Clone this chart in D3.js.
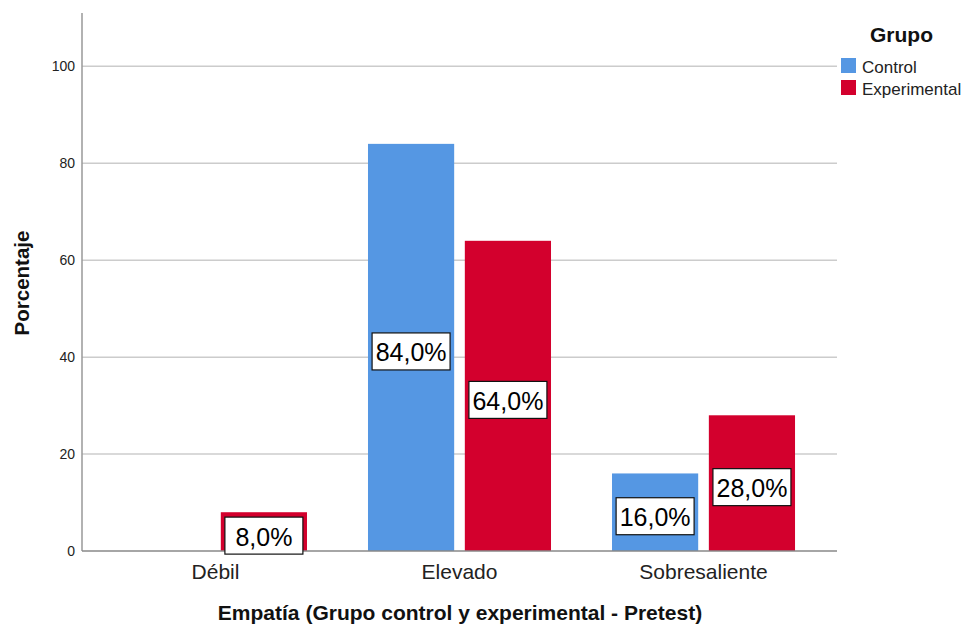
<!DOCTYPE html>
<html>
<head>
<meta charset="utf-8">
<script src="https://cdn.jsdelivr.net/npm/d3@7"></script>
<style>
  html, body { margin: 0; padding: 0; background: #fff; }
  svg { display: block; font-family: Arial, "Liberation Sans", sans-serif; }
</style>
</head>
<body>
<svg id="chart" width="964" height="626"></svg>
<script>
const categories = ["Débil", "Elevado", "Sobresaliente"];
const groups = ["Control", "Experimental"];
const controlValues = [0, 84, 16];
const experimentalValues = [8, 64, 28];
const yTicks = [0, 20, 40, 60, 80, 100];
const groupColors = ["#5597E3", "#D3002D"];
const xTitle = "Empatía (Grupo control y experimental - Pretest)";
const yTitle = "Porcentaje";
const legendTitle = "Grupo";

(function () {
const seriesValues = [controlValues, experimentalValues];
const data = [];
categories.forEach((c, i) => {
  groups.forEach((g, j) => {
    data.push({ cat: c, group: g, value: seriesValues[j][i], color: groupColors[j] });
  });
});

const svg = d3.select("#chart");
const pLeft = 82, pRight = 837, pTop = 13, pBottom = 551;

const y = d3.scaleLinear().domain([0, 111]).range([pBottom, pTop]);
const x = d3.scaleBand().domain(categories).range([pLeft, pRight])
  .paddingInner(0.25).paddingOuter(0.172);
const xg = d3.scaleBand().domain(groups).range([0, x.bandwidth()]).paddingInner(0.11);

// gridlines
svg.append("g").selectAll("line").data(yTicks.filter(d => d > 0)).join("line")
  .attr("x1", pLeft).attr("x2", pRight)
  .attr("y1", d => y(d)).attr("y2", d => y(d))
  .attr("stroke", "#cccccc").attr("stroke-width", 1.5);

// y axis
const yAxis = d3.axisLeft(y).tickValues(yTicks).tickSize(0).tickPadding(7);
const yg = svg.append("g").attr("transform", `translate(${pLeft},0)`).call(yAxis);
yg.select(".domain").remove();
yg.selectAll("text").attr("font-size", 14).attr("fill", "#222").attr("font-family", "Arial, 'Liberation Sans', sans-serif");
svg.append("line").attr("x1", pLeft).attr("x2", pLeft).attr("y1", pTop).attr("y2", pBottom)
  .attr("stroke", "#999").attr("stroke-width", 1.5);

// bars
const bars = svg.append("g");
bars.selectAll("rect").data(data.filter(d => d.value > 0)).join("rect")
  .attr("x", d => x(d.cat) + xg(d.group))
  .attr("width", xg.bandwidth())
  .attr("y", d => y(d.value))
  .attr("height", d => y(0) - y(d.value))
  .attr("fill", d => d.color);

// x axis
const xAxis = d3.axisBottom(x).tickSize(0).tickPadding(13);
const xgAxis = svg.append("g").attr("transform", `translate(0,${pBottom})`).call(xAxis);
xgAxis.select(".domain").remove();
xgAxis.selectAll("text").attr("font-size", 21).attr("fill", "#222").attr("font-family", "Arial, 'Liberation Sans', sans-serif");
svg.append("line").attr("x1", pLeft).attr("x2", pRight).attr("y1", pBottom).attr("y2", pBottom)
  .attr("stroke", "#888").attr("stroke-width", 1.5);

// value labels
const labels = svg.append("g");
data.filter(d => d.value > 0).forEach(d => {
  const cx = x(d.cat) + xg(d.group) + xg.bandwidth() / 2;
  const cy = (y(d.value) + y(0)) / 2 + 4;
  const txt = d3.format(".1f")(d.value).replace(".", ",") + "%";
  const g = labels.append("g");
  g.append("rect")
    .attr("x", cx - 39).attr("y", cy - 18.5).attr("width", 78).attr("height", 37)
    .attr("fill", "#fff").attr("stroke", "#111").attr("stroke-width", 1.2);
  g.append("text").attr("x", cx).attr("y", cy + 1).attr("text-anchor", "middle")
    .attr("dominant-baseline", "central").attr("font-size", 25).attr("fill", "#000").text(txt);
});

// axis titles
svg.append("text").attr("x", 460).attr("y", 620).attr("text-anchor", "middle")
  .attr("font-size", 21).attr("font-weight", "bold").attr("fill", "#111").text(xTitle);
svg.append("text").attr("transform", `translate(29,283) rotate(-90)`)
  .attr("text-anchor", "middle").attr("font-size", 20.5).attr("font-weight", "bold").attr("fill", "#111").text(yTitle);

// legend
const lg = svg.append("g");
lg.append("text").attr("x", 901.5).attr("y", 42).attr("text-anchor", "middle")
  .attr("font-size", 21).attr("font-weight", "bold").attr("fill", "#111").text(legendTitle);
groups.forEach((g, i) => {
  lg.append("rect").attr("x", 841).attr("y", 58 + i * 22).attr("width", 15).attr("height", 15)
    .attr("fill", groupColors[i]);
  lg.append("text").attr("x", 862).attr("y", 72.5 + i * 22).attr("font-size", 17)
    .attr("fill", "#222").text(g);
});
})();
</script>
</body>
</html>
